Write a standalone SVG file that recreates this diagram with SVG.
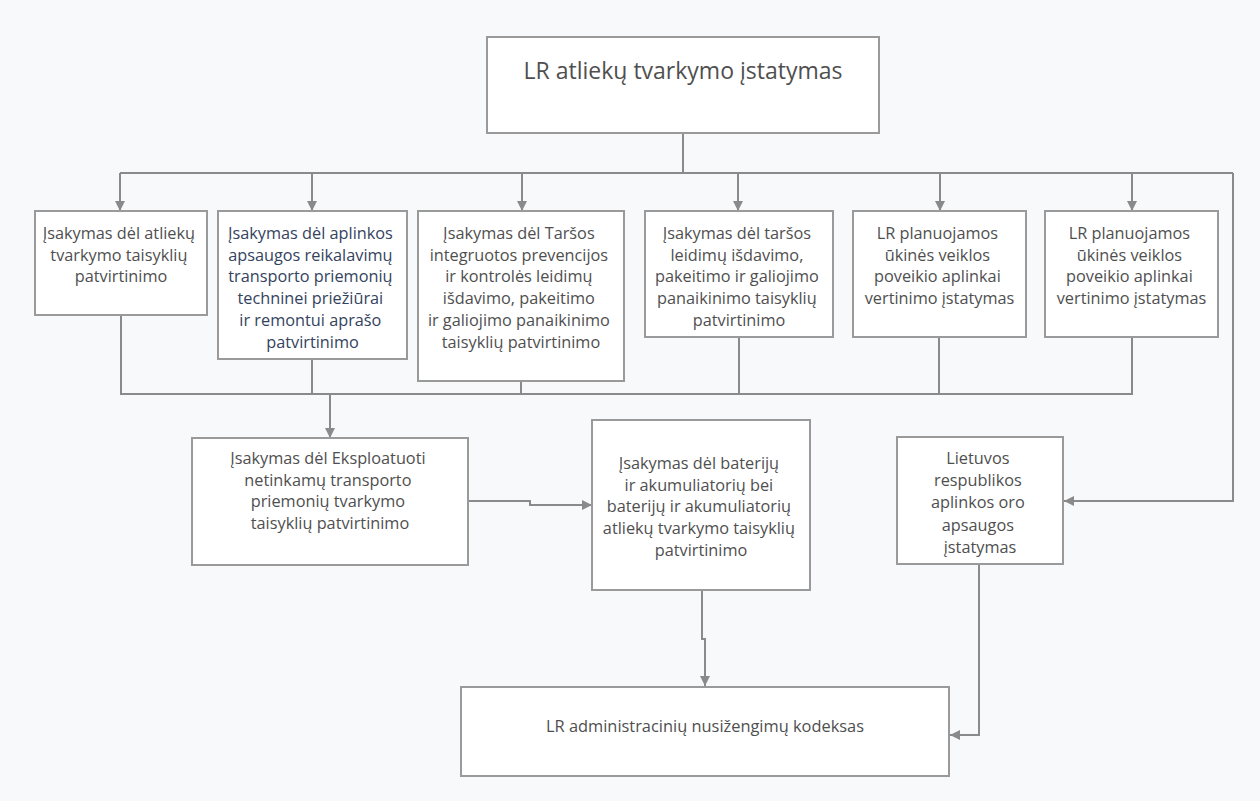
<svg xmlns="http://www.w3.org/2000/svg" width="1260" height="801" viewBox="0 0 1260 801">
  <style>
    .box { fill: #ffffff; stroke: #9a9a9a; stroke-width: 2; }
    .lbl { font-family: "Open Sans", "Noto Sans", "DejaVu Sans", sans-serif; font-size: 16.3px; fill: #4f4f4f; text-anchor: middle; }
    .navy { fill: #34435e; }
    .title { font-size: 23px; }
    .big { font-size: 16.4px; }
    .wire { fill: none; stroke: #8a8a8a; stroke-width: 2; }
  </style>
  <defs>
    <marker id="arrow" viewBox="0 0 10 10" refX="10" refY="5" markerWidth="10" markerHeight="10" markerUnits="userSpaceOnUse" orient="auto">
      <path d="M0,0 L10,5 L0,10 z" fill="#8a8a8a"/>
    </marker>
  </defs>

  <rect x="0" y="0" width="1260" height="801" fill="#f8f9fa"/>

  <!-- connectors -->
  <g id="connectors">
    <!-- law to the first row -->
    <path class="wire" d="M683 133 V173"/>
    <path class="wire" d="M120 173 H1233"/>
    <path class="wire" d="M120 173 V211" marker-end="url(#arrow)"/>
    <path class="wire" d="M312 173 V211" marker-end="url(#arrow)"/>
    <path class="wire" d="M522 173 V211" marker-end="url(#arrow)"/>
    <path class="wire" d="M738 173 V211" marker-end="url(#arrow)"/>
    <path class="wire" d="M940 173 V211" marker-end="url(#arrow)"/>
    <path class="wire" d="M1132 173 V211" marker-end="url(#arrow)"/>
    <path class="wire" d="M1233 173 V501 H1064" marker-end="url(#arrow)"/>
    <!-- first row merged into one bus -->
    <path class="wire" d="M121 315 V394 H1132 V337"/>
    <path class="wire" d="M312 359 V394"/>
    <path class="wire" d="M521 381 V394"/>
    <path class="wire" d="M739 337 V394"/>
    <path class="wire" d="M939 337 V394"/>
    <path class="wire" d="M330 394 V438" marker-end="url(#arrow)"/>
    <!-- second row -->
    <path class="wire" d="M468 501 H530 V505 H592" marker-end="url(#arrow)"/>
    <path class="wire" d="M702 590 V639 H705 V686" marker-end="url(#arrow)"/>
    <path class="wire" d="M979 564 V735 H950" marker-end="url(#arrow)"/>
  </g>

  <g id="law">
    <rect class="box" x="487" y="37" width="392" height="96"/>
    <text class="lbl title" x="683" y="79">LR atliekų tvarkymo įstatymas</text>
  </g>

  <g id="order-waste-rules">
    <rect class="box" x="35" y="211" width="172" height="104"/>
    <text class="lbl" x="121" y="239">
      <tspan x="121">Įsakymas dėl atliekų</tspan>
      <tspan x="121" dy="21.7">tvarkymo taisyklių</tspan>
      <tspan x="121" dy="21.7">patvirtinimo</tspan>
    </text>
  </g>

  <g id="order-vehicle-maintenance">
    <rect class="box" x="218" y="211" width="189" height="148"/>
    <text class="lbl navy" x="312.5" y="239">
      <tspan x="312.5">Įsakymas dėl aplinkos</tspan>
      <tspan x="312.5" dy="21.7">apsaugos reikalavimų</tspan>
      <tspan x="312.5" dy="21.7">transporto priemonių</tspan>
      <tspan x="312.5" dy="21.7">techninei priežiūrai</tspan>
      <tspan x="312.5" dy="21.7">ir remontui aprašo</tspan>
      <tspan x="312.5" dy="21.7">patvirtinimo</tspan>
    </text>
  </g>

  <g id="order-ippc-permits">
    <rect class="box" x="418" y="211" width="206" height="170"/>
    <text class="lbl" x="521" y="239">
      <tspan x="521">Įsakymas dėl Taršos</tspan>
      <tspan x="521" dy="21.7">integruotos prevencijos</tspan>
      <tspan x="521" dy="21.7">ir kontrolės leidimų</tspan>
      <tspan x="521" dy="21.7">išdavimo, pakeitimo</tspan>
      <tspan x="521" dy="21.7">ir galiojimo panaikinimo</tspan>
      <tspan x="521" dy="21.7">taisyklių patvirtinimo</tspan>
    </text>
  </g>

  <g id="order-pollution-permits">
    <rect class="box" x="645" y="211" width="188" height="126"/>
    <text class="lbl" x="739" y="239">
      <tspan x="739">Įsakymas dėl taršos</tspan>
      <tspan x="739" dy="21.7">leidimų išdavimo,</tspan>
      <tspan x="739" dy="21.7">pakeitimo ir galiojimo</tspan>
      <tspan x="739" dy="21.7">panaikinimo taisyklių</tspan>
      <tspan x="739" dy="21.7">patvirtinimo</tspan>
    </text>
  </g>

  <g id="law-eia-1">
    <rect class="box" x="853" y="211" width="173" height="126"/>
    <text class="lbl" x="939.5" y="239">
      <tspan x="939.5">LR planuojamos</tspan>
      <tspan x="939.5" dy="21.7">ūkinės veiklos</tspan>
      <tspan x="939.5" dy="21.7">poveikio aplinkai</tspan>
      <tspan x="939.5" dy="21.7">vertinimo įstatymas</tspan>
    </text>
  </g>

  <g id="law-eia-2">
    <rect class="box" x="1045" y="211" width="173" height="126"/>
    <text class="lbl" x="1131.5" y="239">
      <tspan x="1131.5">LR planuojamos</tspan>
      <tspan x="1131.5" dy="21.7">ūkinės veiklos</tspan>
      <tspan x="1131.5" dy="21.7">poveikio aplinkai</tspan>
      <tspan x="1131.5" dy="21.7">vertinimo įstatymas</tspan>
    </text>
  </g>

  <g id="order-end-of-life-vehicles">
    <rect class="box" x="192" y="438" width="276" height="127"/>
    <text class="lbl" x="330" y="464">
      <tspan x="330">Įsakymas dėl Eksploatuoti</tspan>
      <tspan x="330" dy="21.7">netinkamų transporto</tspan>
      <tspan x="330" dy="21.7">priemonių tvarkymo</tspan>
      <tspan x="330" dy="21.7">taisyklių patvirtinimo</tspan>
    </text>
  </g>

  <g id="order-batteries">
    <rect class="box" x="592" y="420" width="218" height="170"/>
    <text class="lbl" x="701" y="469">
      <tspan x="701">Įsakymas dėl baterijų</tspan>
      <tspan x="701" dy="21.7">ir akumuliatorių bei</tspan>
      <tspan x="701" dy="21.7">baterijų ir akumuliatorių</tspan>
      <tspan x="701" dy="21.7">atliekų tvarkymo taisyklių</tspan>
      <tspan x="701" dy="21.7">patvirtinimo</tspan>
    </text>
  </g>

  <g id="law-air-protection">
    <rect class="box" x="897" y="437" width="166" height="127"/>
    <text class="lbl" x="980" y="464">
      <tspan x="980">Lietuvos</tspan>
      <tspan x="980" dy="22.2">respublikos</tspan>
      <tspan x="980" dy="22.2">aplinkos oro</tspan>
      <tspan x="980" dy="22.2">apsaugos</tspan>
      <tspan x="980" dy="22.2">įstatymas</tspan>
    </text>
  </g>

  <g id="administrative-code">
    <rect class="box" x="461" y="687" width="488" height="89"/>
    <text class="lbl big" x="705" y="732">LR administracinių nusižengimų kodeksas</text>
  </g>
</svg>
